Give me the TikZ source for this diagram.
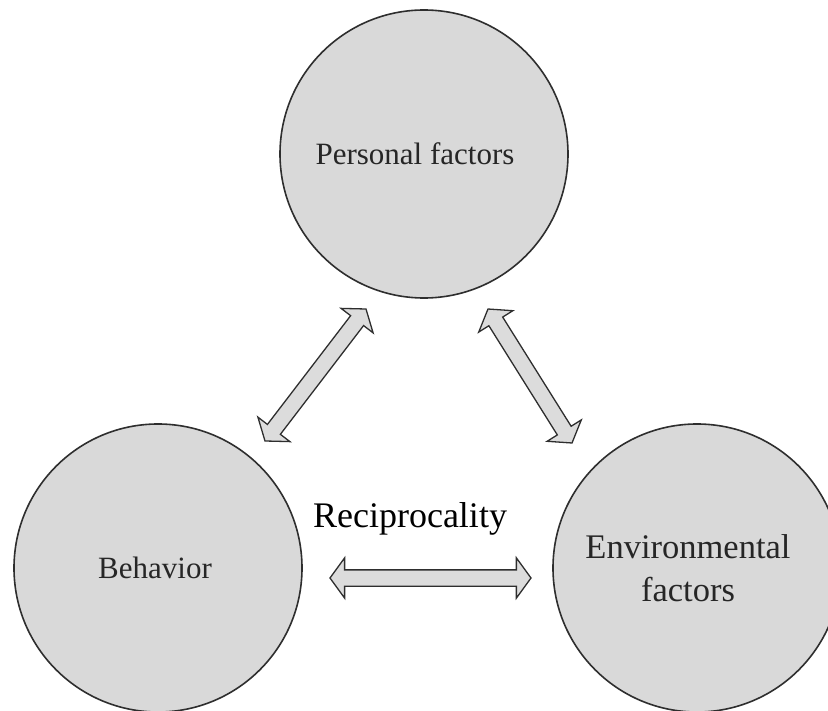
\documentclass[tikz,border=0pt]{standalone}
\usepackage{fontspec}
\setmainfont{Liberation Serif}
\usetikzlibrary{shapes.arrows,calc}
\definecolor{fillgray}{HTML}{D9D9D9}
\definecolor{arrowgray}{HTML}{DCDCDC}
\definecolor{edgegray}{HTML}{2E2E2E}
\definecolor{textgray}{HTML}{262626}
\tikzset{
  factor/.style={circle, draw=edgegray, line width=1.6pt, fill=fillgray,
    minimum size=288pt, inner sep=0pt, align=center, text=textgray,
    font=\fontsize{31}{43}\selectfont},
  dblarrow/.style={double arrow, draw=edgegray, line width=1.3pt, fill=arrowgray,
    inner sep=7.5pt, double arrow head extend=12pt, double arrow tip angle=108,
    anchor=center},
}
\newcommand{\blockarrow}[2]{%
  \path let \p1=($(#2)-(#1)$), \n1={atan2(\y1,\x1)}, \n2={veclen(\x1,\y1)} in
    node[dblarrow, rotate=\n1, minimum height=\n2] at ($(#1)!0.5!(#2)$) {};}
\begin{document}
\begin{tikzpicture}[x=1pt,y=-1pt]
\useasboundingbox (0,0) rectangle (828,711);
\node[factor] (pers) at (424,154) {\hspace*{-18pt}Personal factors};
\node[factor] (beh) at (158,568) {\hspace*{-6pt}Behavior};
\node[factor, font=\fontsize{34.5}{43}\selectfont] (env) at (697,568) {\hspace*{-18pt}Environmental\\\hspace*{-18pt}factors};
\node[font=\fontsize{36}{40}\selectfont] (rec) at (410,519) {Reciprocality};
\coordinate (a1) at (265,441);
\coordinate (a2) at (366,309);
\coordinate (b1) at (488,309);
\coordinate (b2) at (572,443);
\coordinate (c1) at (330,578);
\coordinate (c2) at (531,578);
\blockarrow{a1}{a2}
\blockarrow{b1}{b2}
\blockarrow{c1}{c2}
\end{tikzpicture}
\end{document}
